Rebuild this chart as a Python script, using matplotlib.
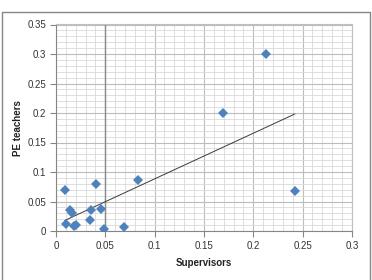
import numpy as np
import matplotlib
matplotlib.use("Agg")
import matplotlib.pyplot as plt
from matplotlib.patches import Rectangle

# data
supervisors = [0.213, 0.169, 0.242, 0.083, 0.041, 0.009, 0.014, 0.016,
               0.035, 0.046, 0.034, 0.010, 0.018, 0.020, 0.049, 0.069]
pe_teachers = [0.300, 0.200, 0.068, 0.086, 0.080, 0.069, 0.035, 0.031,
               0.035, 0.038, 0.018, 0.012, 0.008, 0.011, 0.004, 0.007]
x_ticks = [0, 0.05, 0.1, 0.15, 0.2, 0.25, 0.3]
y_ticks = [0, 0.05, 0.1, 0.15, 0.2, 0.25, 0.3, 0.35]

plt.rcParams['font.family'] = ['Liberation Sans', 'DejaVu Sans']

fig = plt.figure(figsize=(3.72, 2.80), dpi=100)
ax = fig.add_axes([0.1505, 0.175, 0.7955, 0.7375])

x = np.array(supervisors)
y = np.array(pe_teachers)

ax.set_xlim(0, 0.3)
ax.set_ylim(0, 0.35)
ax.set_xticks(x_ticks)
ax.set_yticks(y_ticks)
ax.set_xticklabels([f"{t:g}" for t in x_ticks])
ax.set_yticklabels([f"{t:g}" for t in y_ticks])
ax.set_xticks(np.arange(0, 0.3001, 0.01), minor=True)
ax.set_yticks(np.arange(0, 0.3501, 0.01), minor=True)
ax.grid(which='major', color='#bcbcbc', linewidth=0.8)
ax.grid(which='minor', color='#d9d9d9', linewidth=0.6)
ax.tick_params(which='minor', length=0)
ax.tick_params(which='major', length=4, width=0.8, color='#868686',
               labelsize=7, labelcolor='#333333', pad=3)
ax.set_axisbelow(True)
for s in ax.spines.values():
    s.set_color('#bfbfbf')
    s.set_linewidth(0.8)
ax.spines['left'].set_color('#868686')
ax.spines['bottom'].set_color('#868686')
ax.axvline(0.05, color='#8a8a8a', linewidth=1.0, zorder=1)

# linear trendline
m, b = np.polyfit(x, y, 1)
xs = np.array([x.min(), x.max()])
ax.plot(xs, m * xs + b, color='#3a3a3a', linewidth=0.7, zorder=2)

ax.plot(x, y, 'D', color='#4f81bd', markersize=5.5, markeredgewidth=0, zorder=3)

ax.set_xlabel('Supervisors', fontsize=7, fontweight='bold', labelpad=5,
              color='#222222')
ax.set_ylabel('PE teachers', fontsize=7, fontweight='bold', labelpad=3,
              color='#222222')

# outer chart frame
fig.patches.append(Rectangle((1.5 / 372, -0.1), 368.5 / 372, 1.1 - 11.5 / 280,
                             transform=fig.transFigure, fill=False,
                             edgecolor='#868686', linewidth=1.0))

fig.savefig('out.png', dpi=100)
